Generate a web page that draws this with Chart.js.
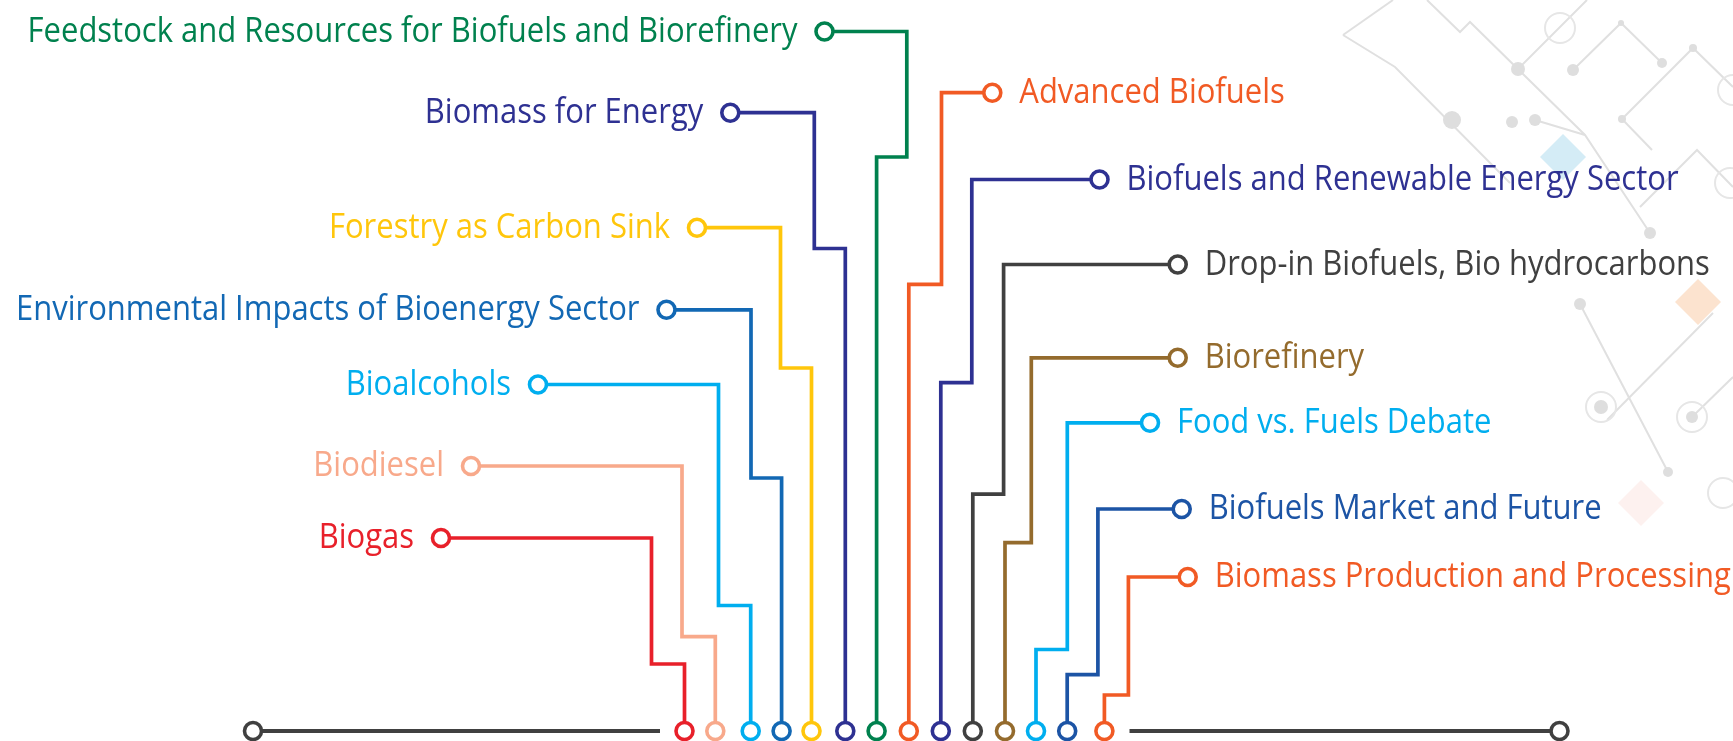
<!DOCTYPE html>
<html>
<head>
<meta charset="utf-8">
<script src="https://cdn.jsdelivr.net/npm/chart.js@4"></script>
<style>
  html, body { margin:0; padding:0; background:#fff; }
  #wrap { width:1733px; height:741px; }
</style>
</head>
<body>
<div id="wrap"><canvas id="tree" width="1733" height="741"></canvas></div>
<script>
// topics, left to right along the bus
const topics = [
  'Biogas', 'Biodiesel', 'Bioalcohols', 'Environmental Impacts of Bioenergy Sector',
  'Forestry as Carbon Sink', 'Biomass for Energy', 'Feedstock and Resources for Biofuels and Biorefinery',
  'Advanced Biofuels', 'Biofuels and Renewable Energy Sector', 'Drop-in Biofuels, Bio hydrocarbons',
  'Biorefinery', 'Food vs. Fuels Debate', 'Biofuels Market and Future', 'Biomass Production and Processing'
];
const colors = [
  '#e8202a', '#f8a98b', '#00aeef', '#1268b4', '#ffc60b', '#2e3192', '#00814e',
  '#f15a24', '#2e3192', '#404040', '#946b2d', '#00aeef', '#1c54a5', '#f15a24'
];
// label node (x, y), elbow x, step y, bus x
const labelX = [441, 471, 538, 666.5, 697, 730.3, 824.5, 992.3, 1099.5, 1177.7, 1177.7, 1150, 1181.7, 1187.7];
const labelY = [538, 466, 384.5, 309.8, 227.7, 112.7, 31.5, 92.7, 179.5, 264.5, 357.8, 422.8, 509, 577];
const elbowX = [651.5, 682, 718.5, 751, 780.5, 814.3, 906.8, 941.5, 971.8, 1003.6, 1031.3, 1067.3, 1097.9, 1128.4];
const stepY  = [664, 636.7, 605.5, 478, 368, 248.5, 157, 284.3, 382.6, 494.2, 542.7, 649.5, 674.6, 695];
const busX   = [684.5, 715.3, 750.7, 781.6, 811.5, 845.3, 876.6, 908.8, 940.8, 972.8, 1005, 1036, 1067.2, 1104.4];

// the bus line
const busY = 731;
const busLeft = [253, 660];
const busRight = [1129.5, 1559.5];

// faint background circuit
const decorLines = [
  [[1427,0],[1460,32],[1470,22],[1585,135],[1650,233]],
  [[1518,69],[1587,0]],
  [[1573,70],[1621,23],[1662,63]],
  [[1622,119],[1693,48],[1733,87]],
  [[1622,119],[1652,150]],
  [[1343,35],[1393,0]],
  [[1343,35],[1395,67],[1510,183]],
  [[1640,207],[1697,150],[1733,187]],
  [[1580,304],[1668,472]],
  [[1713,313],[1607,420]],
  [[1692,417],[1733,377]],
  [[1535,120],[1585,135]]
];
const decorDots = [[1518,69,7],[1573,70,6],[1662,63,5],[1621,23,3],[1693,48,4],[1622,119,4],[1535,120,6],
  [1650,233,6],[1580,304,6],[1668,472,5],[1601,407,7],[1692,417,6],[1452,120,9],[1512,122,6]];
const decorRings = [[1560,28,15],[1733,90,15],[1601,407,15],[1692,417,15],[1723,493,15],[1730,183,15]];
const decorDiamonds = [[1563,157,'#d4ecf6'],[1698,302,'#fce3cf'],[1641,503,'#fdf1ef']];

function build(){
  const datasets = topics.map((t,i)=>({
    label: t,
    data: [
      {x: labelX[i], y: labelY[i]},
      {x: elbowX[i], y: labelY[i]},
      {x: elbowX[i], y: stepY[i]},
      {x: busX[i], y: stepY[i]},
      {x: busX[i], y: busY}
    ],
    borderColor: colors[i],
    borderWidth: 3.7,
    pointRadius: [8.5,0,0,0,8.5],
    pointBorderWidth: 3.6,
    pointBorderColor: colors[i],
    pointBackgroundColor: '#fff',
    borderJoinStyle: 'miter',
    clip: false
  }));
  datasets.push({
    label: 'bus-left',
    data: [{x: busLeft[0], y: busY}, {x: busLeft[1], y: busY}],
    borderColor: '#404040', borderWidth: 4,
    pointRadius: [8.5,0], pointBorderWidth: 3.6, pointBorderColor: '#404040', pointBackgroundColor: '#fff', clip: false
  });
  datasets.push({
    label: 'bus-right',
    data: [{x: busRight[0], y: busY}, {x: busRight[1], y: busY}],
    borderColor: '#404040', borderWidth: 4,
    pointRadius: [0,8.5], pointBorderWidth: 3.6, pointBorderColor: '#404040', pointBackgroundColor: '#fff', clip: false
  });

  const decor = {
    id: 'decor',
    beforeDatasetsDraw(chart){
      const {ctx, scales:{x, y}} = chart;
      ctx.save();
      decorDiamonds.forEach(([cx,cy,c])=>{
        const px = x.getPixelForValue(cx), py = y.getPixelForValue(cy);
        ctx.fillStyle = c;
        ctx.beginPath();
        ctx.moveTo(px, py-23); ctx.lineTo(px+23, py); ctx.lineTo(px, py+23); ctx.lineTo(px-23, py);
        ctx.closePath(); ctx.fill();
      });
      ctx.strokeStyle = '#e0e0e0';
      ctx.lineWidth = 2;
      decorLines.forEach(pts=>{
        ctx.beginPath();
        pts.forEach(([a,b],k)=>{
          const px = x.getPixelForValue(a), py = y.getPixelForValue(b);
          k ? ctx.lineTo(px,py) : ctx.moveTo(px,py);
        });
        ctx.stroke();
      });
      ctx.strokeStyle = '#e6e6e6';
      decorRings.forEach(([a,b,r])=>{
        ctx.beginPath();
        ctx.arc(x.getPixelForValue(a), y.getPixelForValue(b), r, 0, Math.PI*2);
        ctx.stroke();
      });
      ctx.fillStyle = '#dedede';
      decorDots.forEach(([a,b,r])=>{
        ctx.beginPath();
        ctx.arc(x.getPixelForValue(a), y.getPixelForValue(b), r, 0, Math.PI*2);
        ctx.fill();
      });
      ctx.restore();
    }
  };

  const labels = {
    id: 'labels',
    afterDatasetsDraw(chart){
      const ctx = chart.ctx;
      ctx.font = '31px "Open Sans"';
      ctx.textBaseline = 'alphabetic';
      topics.forEach((t,i)=>{
        const pt = chart.getDatasetMeta(i).data[0];
        const left = labelX[i] < elbowX[i];
        ctx.save();
        ctx.translate(pt.x + (left ? -27 : 27), pt.y + 10);
        ctx.scale(1, 1.1);
        ctx.fillStyle = colors[i];
        ctx.textAlign = left ? 'right' : 'left';
        ctx.fillText(t, 0, 0);
        ctx.restore();
      });
    }
  };

  new Chart(document.getElementById('tree'), {
    type: 'line',
    data: { datasets },
    options: {
      responsive: false,
      animation: false,
      layout: { padding: 0, autoPadding: false },
      plugins: { legend: {display:false}, tooltip: {enabled:false} },
      scales: {
        x: { type:'linear', min:0, max:1733, display:false },
        y: { type:'linear', min:0, max:741, reverse:true, display:false }
      }
    },
    plugins: [decor, labels]
  });
}

document.fonts.load('31px "Open Sans"').then(build, build);
</script>
</body>
</html>
